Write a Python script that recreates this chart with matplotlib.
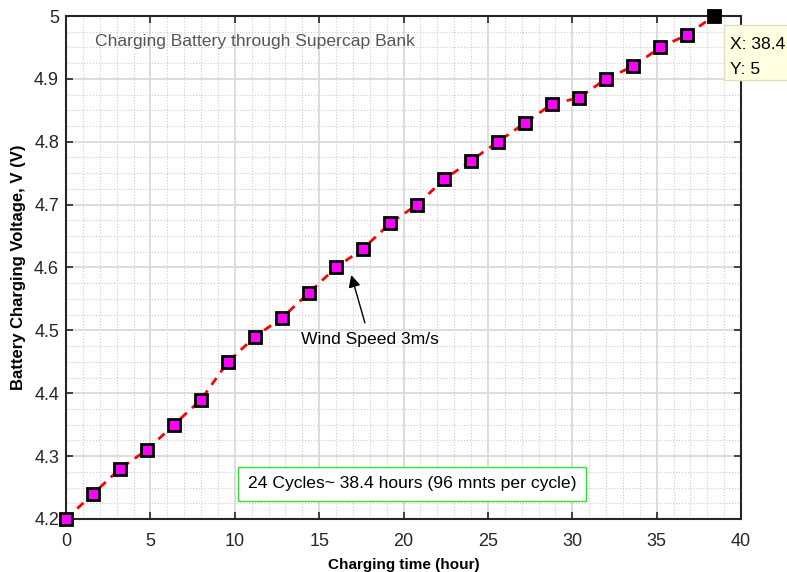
import matplotlib.pyplot as plt
from matplotlib.patches import Rectangle
from matplotlib.ticker import MultipleLocator

plt.rcParams['font.family'] = ['Liberation Sans', 'DejaVu Sans']

# charging time (hour), one point per 96-minute cycle
hours = [0, 1.6, 3.2, 4.8, 6.4, 8.0, 9.6, 11.2, 12.8, 14.4, 16.0, 17.6, 19.2,
         20.8, 22.4, 24.0, 25.6, 27.2, 28.8, 30.4, 32.0, 33.6, 35.2, 36.8, 38.4]
volts = [4.20, 4.24, 4.28, 4.31, 4.35, 4.39, 4.45, 4.49, 4.52, 4.56, 4.60, 4.63, 4.67,
         4.70, 4.74, 4.77, 4.80, 4.83, 4.86, 4.87, 4.90, 4.92, 4.95, 4.97, 5.00]

fig = plt.figure(figsize=(7.87, 5.72), dpi=100)
ax = fig.add_axes([0.0839, 0.0927, 0.8577, 0.8793])

ax.plot(hours, volts, color='red', linestyle='--', linewidth=2, dashes=(3, 2.5),
        marker='s', markersize=9, markerfacecolor='magenta',
        markeredgecolor='black', markeredgewidth=2, zorder=3, clip_on=False)
# data tip point
ax.plot(hours[-1], volts[-1], marker='s', markersize=9, color='black', zorder=4, clip_on=False)

ax.set_xlim(0, 40)
ax.set_ylim(4.2, 5)
ax.xaxis.set_major_locator(MultipleLocator(5))
ax.xaxis.set_minor_locator(MultipleLocator(1))
ax.yaxis.set_major_locator(MultipleLocator(0.1))
ax.yaxis.set_minor_locator(MultipleLocator(0.025))
ax.yaxis.set_major_formatter(plt.FuncFormatter(lambda v, p: ('%.1f' % v).rstrip('0').rstrip('.')))

ax.grid(which='major', color='#dadada', linewidth=1.3)
ax.grid(which='minor', color='#cccccc', linestyle=':', linewidth=0.8)
ax.set_axisbelow(True)
ax.tick_params(which='both', direction='in', top=True, right=True, labelsize=13,
               colors='#262626', labelcolor='#262626')
ax.tick_params(which='major', length=5, width=1.2)
ax.tick_params(which='minor', length=0)
ax.tick_params(axis='x', pad=10)
ax.tick_params(axis='y', pad=5)
for s in ax.spines.values():
    s.set_linewidth(1.5)
    s.set_color('#262626')

ax.set_xlabel('Charging time (hour)', fontsize=11, fontweight='bold', labelpad=6)
ax.set_ylabel('Battery Charging Voltage, V (V)', fontsize=12, fontweight='bold', labelpad=6)

ax.text(1.7, 4.959, 'Charging Battery through Supercap Bank', fontsize=12.6,
        color='#555555', va='center', ha='left')

ax.annotate('Wind Speed 3m/s', xy=(16.9, 4.588), xytext=(18.0, 4.485),
            fontsize=12.6, ha='center', va='center',
            arrowprops=dict(arrowstyle='-|>', color='black', lw=1,
                            mutation_scale=18, shrinkA=5, shrinkB=0))

ax.text(20.5, 4.256, '24 Cycles~ 38.4 hours (96 mnts per cycle)', fontsize=12.6,
        ha='center', va='center',
        bbox=dict(boxstyle='square,pad=0.55', facecolor='white', edgecolor='#33dd33', linewidth=1))

# data tip box, partly cut by the figure edge
fig.add_artist(Rectangle((724 / 787, 1 - 80 / 572), 80 / 787, 55 / 572,
                         transform=fig.transFigure, facecolor='#ffffe1',
                         edgecolor='#e0e0c0', linewidth=1, zorder=5))
fig.text(730 / 787, 1 - 37 / 572, 'X: 38.4\nY: 5', fontsize=12.6, ha='left', va='top',
         linespacing=1.8, zorder=6)

fig.savefig('out.png', dpi=100)
